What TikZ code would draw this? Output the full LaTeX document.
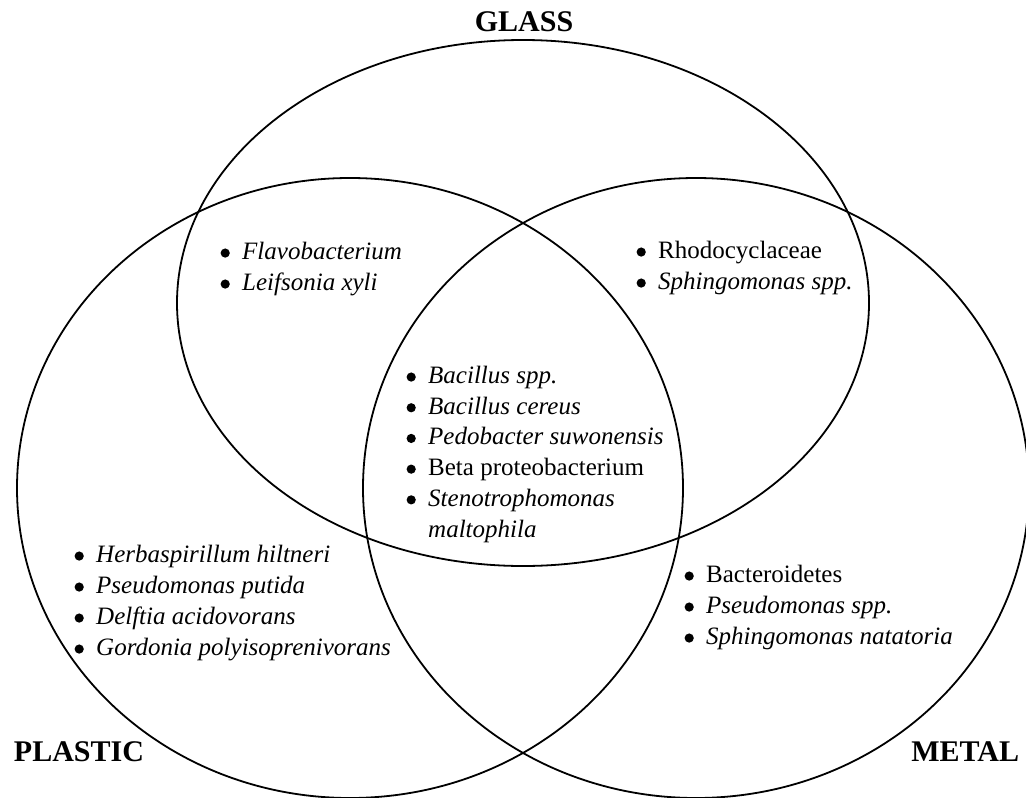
\documentclass[tikz,border=0pt]{standalone}
\usepackage{fontspec}
\setmainfont{Liberation Serif}
\usepackage{tikz}
\usetikzlibrary{positioning}
\newcommand{\dotmark}{\tikz[baseline=-6.5pt]\fill (0,0) circle (4.6pt);}
\newcommand{\itm}[1]{\dotmark\hspace{12.4pt}#1}
\newcommand{\cont}[1]{\hphantom{\dotmark}\hspace{12.4pt}#1}

\begin{document}
\begin{tikzpicture}[x=1pt,y=1pt,line width=1.8pt,
  setname/.style={font=\fontsize{30}{36}\selectfont\bfseries,inner sep=0pt},
  taxa/.style={font=\fontsize{25}{31}\selectfont,align=left,inner sep=0pt,anchor=north west}]
\useasboundingbox (0,0) rectangle (1026,-798);
\draw (523,-303) ellipse [x radius=346pt,y radius=263pt];
\draw (350,-488) ellipse [x radius=333pt,y radius=310pt];
\draw (696,-488) ellipse [x radius=333pt,y radius=310pt];
\node[setname] (glass) at (524,-22) {GLASS};
\node[setname] (plastic) at (79,-752) {PLASTIC};
\node[setname,anchor=east] (metal) at (1020,-752) {METAL};
\node[taxa] (gp) at (220.4,-242) {\itm{\textit{Flavobacterium}}\\ \itm{\textit{Leifsonia xyli}}};
\node[taxa] (gm) at (636.4,-241) {\itm{Rhodocyclaceae}\\ \itm{\textit{Sphingomonas spp.}}};
\node[taxa,font=\fontsize{25}{30.7}\selectfont] (all) at (406.4,-366) {\itm{\textit{Bacillus spp.}}\\ \itm{\textit{Bacillus cereus}}\\
  \itm{\textit{Pedobacter suwonensis}}\\ \itm{Beta proteobacterium}\\ \itm{\textit{Stenotrophomonas}}\\ \cont{\textit{maltophila}}};
\node[taxa] (pl) at (74.4,-545) {\itm{\textit{Herbaspirillum hiltneri}}\\ \itm{\textit{Pseudomonas putida}}\\
  \itm{\textit{Delftia acidovorans}}\\ \itm{\textit{Gordonia polyisoprenivorans}}};
\node[taxa] (me) at (684.4,-565) {\itm{Bacteroidetes}\\ \itm{\textit{Pseudomonas spp.}}\\ \itm{\textit{Sphingomonas natatoria}}};
\end{tikzpicture}
\end{document}
